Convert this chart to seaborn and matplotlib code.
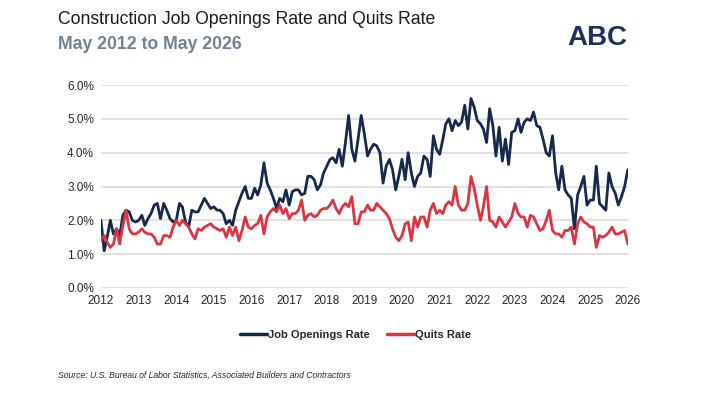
import pandas as pd
import seaborn as sns
import matplotlib.pyplot as plt
import matplotlib.dates as mdates
from matplotlib.lines import Line2D

# monthly values, Jan 2012 .. Jan 2026 (one row per year)
job_openings = [
    2.0, 1.1, 1.5, 2.0, 1.6, 1.75, 1.55, 2.15, 2.3, 2.25, 2.0, 1.95,
    2.0, 2.15, 1.85, 2.05, 2.2, 2.45, 2.5, 2.05, 2.5, 2.3, 2.05, 1.95,
    2.0, 2.5, 2.4, 1.95, 1.8, 2.3, 2.25, 2.25, 2.45, 2.65, 2.5, 2.35,
    2.4, 2.3, 2.3, 2.2, 1.9, 2.0, 1.85, 2.3, 2.55, 2.8, 3.0, 2.65,
    2.65, 2.95, 2.75, 3.05, 3.7, 3.1, 2.9, 2.65, 2.35, 2.65, 2.55, 2.9,
    2.45, 2.85, 2.9, 2.9, 2.75, 2.8, 3.3, 3.3, 3.2, 2.9, 3.05, 3.4,
    3.6, 3.8, 3.85, 3.7, 4.1, 3.6, 4.3, 5.1, 4.1, 3.75, 4.4, 5.1,
    4.55, 3.9, 4.1, 4.25, 4.2, 4.0, 3.1, 3.6, 3.8, 3.5, 2.9, 3.3,
    3.8, 3.2, 4.0, 3.4, 3.0, 3.3, 3.4, 3.9, 3.8, 3.3, 4.5, 4.1,
    3.95, 4.4, 4.85, 5.0, 4.65, 4.95, 4.8, 4.9, 5.4, 4.7, 5.6, 5.35,
    4.95, 4.85, 4.7, 4.3, 5.3, 4.8, 3.9, 4.75, 3.75, 4.4, 3.65, 4.6,
    4.65, 5.0, 4.6, 4.9, 5.0, 4.95, 5.2, 4.8, 4.75, 4.4, 4.0, 3.9,
    4.5, 3.4, 2.9, 3.6, 2.9, 2.75, 2.65, 1.75, 2.75, 3.0, 3.3, 2.45,
    2.6, 2.6, 3.6, 2.5, 2.4, 2.3, 3.4, 3.0, 2.8, 2.45, 2.7, 3.0,
    3.5,
]

quits = [
    1.4, 1.55, 1.35, 1.2, 1.3, 1.75, 1.3, 1.85, 2.3, 1.75, 1.6, 1.6,
    1.65, 1.75, 1.65, 1.6, 1.6, 1.5, 1.3, 1.3, 1.55, 1.55, 1.5, 1.8,
    2.0, 1.85, 2.0, 1.9, 1.8, 1.6, 1.45, 1.75, 1.7, 1.8, 1.85, 1.9,
    1.8, 1.75, 1.7, 1.75, 1.5, 1.8, 1.55, 1.8, 1.4, 1.7, 2.1, 1.8,
    1.75, 1.85, 1.9, 2.15, 1.6, 2.1, 2.25, 2.35, 2.25, 2.45, 2.2, 2.35,
    2.05, 2.2, 2.2, 2.3, 2.6, 2.0, 2.15, 2.2, 2.1, 2.15, 2.3, 2.35,
    2.35, 2.45, 2.6, 2.35, 2.2, 2.4, 2.5, 2.4, 2.7, 1.9, 1.9, 2.25,
    2.25, 2.45, 2.3, 2.3, 2.5, 2.4, 2.3, 2.2, 2.05, 1.75, 1.5, 1.4,
    1.55, 1.9, 1.95, 1.4, 2.1, 1.8, 2.1, 2.1, 1.8, 2.3, 2.5, 2.2,
    2.3, 2.2, 2.45, 2.55, 2.45, 3.0, 2.45, 2.3, 2.3, 2.5, 3.3, 2.95,
    2.45, 2.0, 2.4, 3.0, 2.0, 1.95, 1.8, 2.1, 1.95, 1.8, 1.95, 2.1,
    2.5, 2.2, 2.1, 2.1, 1.8, 2.15, 2.1, 1.9, 1.7, 1.75, 2.0, 2.3,
    1.7, 1.6, 1.6, 1.5, 1.7, 1.7, 1.8, 1.3, 1.9, 2.1, 1.95, 1.9,
    1.8, 1.8, 1.2, 1.55, 1.5, 1.55, 1.65, 1.8, 1.6, 1.6, 1.65, 1.7,
    1.3,
]

series_names = ["Job Openings Rate", "Quits Rate"]
colors = ["#16294d", "#dc3542"]
year_ticks = list(range(2012, 2027))

dates = pd.date_range("2012-01-01", periods=len(job_openings), freq="MS")
df = pd.DataFrame({"date": dates, series_names[0]: job_openings, series_names[1]: quits})
long = df.melt(id_vars="date", var_name="series", value_name="rate")

sns.set_style("white")
plt.rcParams["font.family"] = ["Liberation Sans", "DejaVu Sans"]

fig = plt.figure(figsize=(7.11, 4.0), dpi=100)
ax = fig.add_axes([0.142, 0.28, 0.741, 0.5075])

sns.lineplot(data=long, x="date", y="rate", hue="series", palette=colors,
             linewidth=2.0, ax=ax, legend=False)

ax.set_ylim(0, 6)
ax.set_yticks(range(0, 7))
ax.set_yticklabels([f"{v:.1f}%" for v in range(0, 7)])
ax.set_xlim(pd.Timestamp("2012-01-01"), pd.Timestamp("2026-01-01"))
ax.set_xticks([pd.Timestamp(f"{y}-01-01") for y in year_ticks])
ax.xaxis.set_major_formatter(mdates.DateFormatter("%Y"))
ax.set_xlabel("")
ax.set_ylabel("")
ax.grid(axis="y", color="#d9d9d9", linewidth=1.1)
ax.set_axisbelow(True)
for s in ax.spines.values():
    s.set_visible(False)
ax.tick_params(axis="both", length=0, labelsize=8.5, colors="#262626", pad=5)

handles = [Line2D([0], [0], color=c, linewidth=2.5) for c in colors]
fig.legend(handles, series_names, loc="center", bbox_to_anchor=(0.5, 0.163), ncol=2,
           frameon=False, prop={"weight": "bold", "size": 8}, handlelength=2.4,
           handletextpad=0.1, columnspacing=1.6)

fig.text(0.0815, 0.95, "Construction Job Openings Rate and Quits Rate",
         fontsize=12.7, color="#1a1a1a", va="center")
fig.text(0.0815, 0.888, "May 2012 to May 2026", fontsize=12.7,
         fontweight="bold", color="#6f8294", va="center")
fig.text(0.0815, 0.062,
         "Source: U.S. Bureau of Labor Statistics, Associated Builders and Contractors",
         fontsize=6.2, style="italic", color="#262626", va="center")

# logo stand-in
fig.text(0.84, 0.905, "ABC", fontsize=20, fontweight="bold", color="#1d2f5c",
         ha="center", va="center")

fig.savefig("out.png", dpi=100)
